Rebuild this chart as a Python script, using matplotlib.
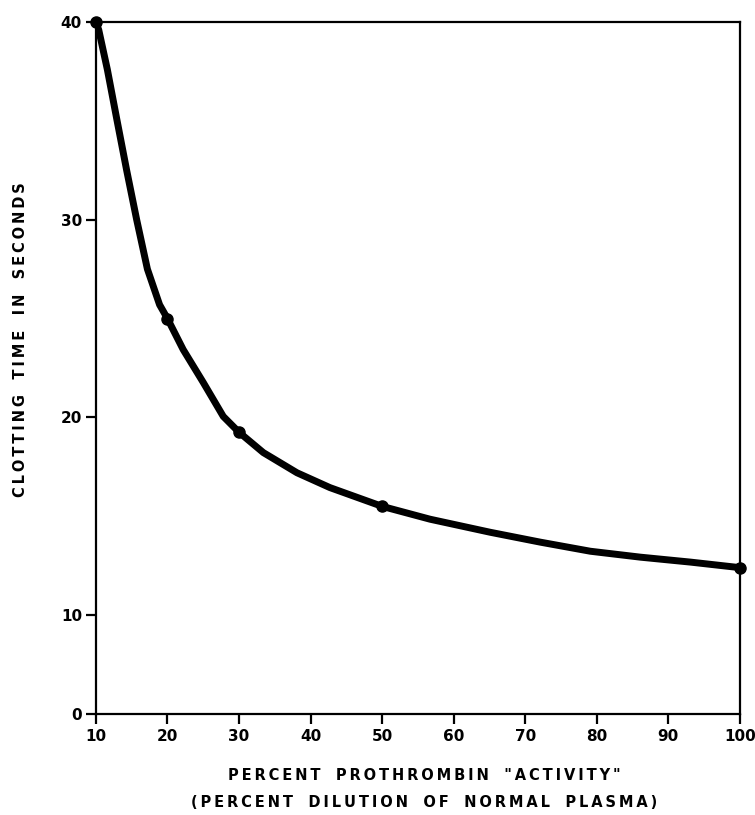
import numpy as np
import matplotlib
matplotlib.use("Agg")
import matplotlib.pyplot as plt

# measured points (dots)
pct_activity = [10, 20, 30, 50, 100]
clot_time = [40, 25, 19.25, 15.5, 12.4]

# hand-drawn curve
curve_x = [10, 10.4, 11.6, 12.94, 14.3, 15.7, 17.2, 18.9, 20, 22.2, 25.0, 27.8, 30,
           33.4, 38.1, 42.7, 50, 56.7, 65.1, 72.1, 79.1, 86.1, 93.1, 100]
curve_y = [40, 39.6, 37.6, 35.05, 32.5, 30.0, 27.5, 25.7, 25, 23.43, 21.77, 20.05, 19.25,
           18.22, 17.2, 16.45, 15.5, 14.85, 14.19, 13.69, 13.23, 12.93, 12.68, 12.4]

xticks = [10, 20, 30, 40, 50, 60, 70, 80, 90, 100]
# the bottom of the y axis is drawn at half a step and labelled 0
yticks = [5, 10, 20, 30, 40]
ytick_labels = ["0", "10", "20", "30", "40"]

xlabel1 = 'PERCENT PROTHROMBIN "ACTIVITY"'
xlabel2 = '(PERCENT DILUTION OF NORMAL PLASMA)'
ylabel = 'CLOTTING TIME IN SECONDS'


def spaced(s):
    # letter-spacing like the stencil lettering
    return "   ".join("\u2009".join(w) for w in s.split(" "))


fig = plt.figure(figsize=(7.55, 8.15), dpi=100)
ax = fig.add_axes([0.127, 0.124, 0.853, 0.849])

ax.plot(curve_x, curve_y, color="black", linewidth=5, solid_capstyle="round", solid_joinstyle="round")
ax.plot(pct_activity, clot_time, 'o', color="black", markersize=8, clip_on=False)

ax.set_xlim(10, 100)
ax.set_ylim(5, 40)
ax.set_xticks(xticks)
ax.set_xticklabels([str(v) for v in xticks])
ax.set_yticks(yticks)
ax.set_yticklabels(ytick_labels)

for s in ax.spines.values():
    s.set_linewidth(1.6)
ax.tick_params(axis="both", direction="out", length=7, width=1.6, labelsize=11)
ax.tick_params(axis="x", pad=4)
ax.tick_params(axis="y", pad=3)
for lab in ax.get_xticklabels() + ax.get_yticklabels():
    lab.set_fontweight("bold")

fig.text(0.562, 0.049, spaced(xlabel1), ha="center", va="center", fontsize=10.5, fontweight="bold")
fig.text(0.562, 0.015, spaced(xlabel2), ha="center", va="center", fontsize=10.5, fontweight="bold")
fig.text(0.027, 0.583, spaced(ylabel), ha="center", va="center", rotation=90, fontsize=10.5, fontweight="bold")

plt.savefig("out.png", dpi=100)
plt.close()
